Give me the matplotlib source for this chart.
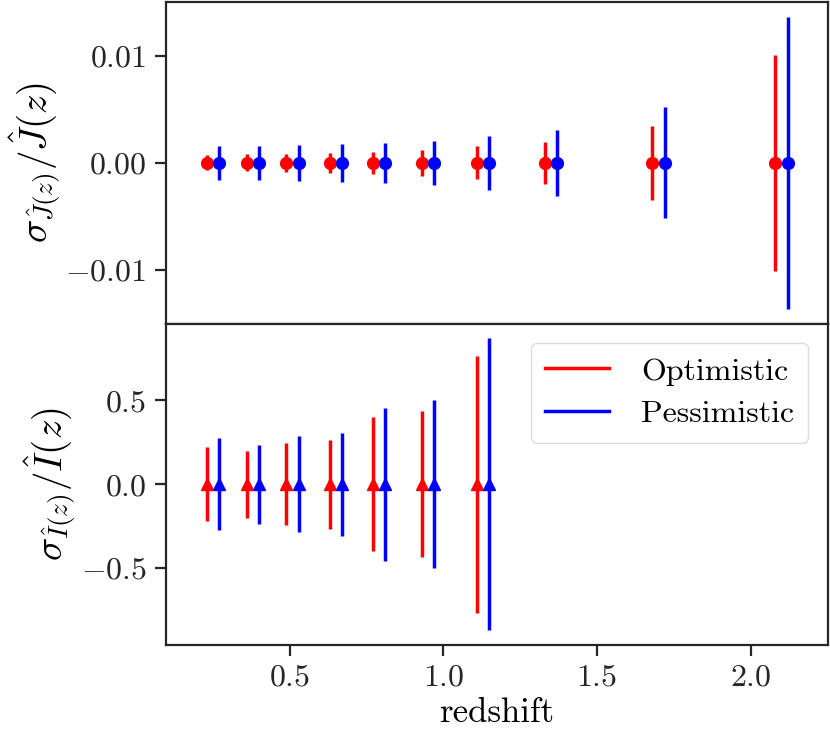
import numpy as np
import matplotlib
matplotlib.use('Agg')
import matplotlib.pyplot as plt

# redshift bins (centres) and forecast errors
z_bins = np.array([0.25, 0.38, 0.51, 0.65, 0.79, 0.95, 1.13, 1.35, 1.70, 2.10])
shift = 0.02

# top panel: sigma_J / J
j_opt = np.array([0.0007, 0.0008, 0.00085, 0.0009, 0.00105, 0.00125, 0.00155, 0.002, 0.0035, 0.0101])
j_pes = np.array([0.0016, 0.0016, 0.00165, 0.00175, 0.0019, 0.0021, 0.0025, 0.0031, 0.0052, 0.0137])

# bottom panel: sigma_I / I (only the first 7 bins)
i_z = z_bins[:7]
i_opt = np.array([0.22, 0.20, 0.245, 0.265, 0.40, 0.435, 0.765])
i_pes = np.array([0.275, 0.235, 0.285, 0.305, 0.455, 0.50, 0.87])

plt.rcParams['font.family'] = 'serif'
plt.rcParams['font.serif'] = ['cmr10', 'DejaVu Serif']
plt.rcParams['mathtext.fontset'] = 'cm'
plt.rcParams['axes.formatter.use_mathtext'] = True
plt.rcParams['axes.unicode_minus'] = True

edge = '#262626'
fig, (ax1, ax2) = plt.subplots(2, 1, sharex=True, figsize=(8.3, 7.38), dpi=100)
fig.subplots_adjust(left=0.2, right=0.997, top=0.997, bottom=0.126, hspace=0)

ax1.errorbar(z_bins - shift, np.zeros_like(z_bins), yerr=j_opt, fmt='o', color='red',
             ms=8.5, elinewidth=2.5, capsize=0)
ax1.errorbar(z_bins + shift, np.zeros_like(z_bins), yerr=j_pes, fmt='o', color='blue',
             ms=8.5, elinewidth=2.5, capsize=0)

ax2.errorbar(i_z - shift, np.zeros_like(i_z), yerr=i_opt, fmt='^', color='red',
             ms=8.5, elinewidth=2.5, capsize=0)
ax2.errorbar(i_z + shift, np.zeros_like(i_z), yerr=i_pes, fmt='^', color='blue',
             ms=8.5, elinewidth=2.5, capsize=0)

# legend with plain lines
ax2.plot([], [], color='red', lw=2.5, label='Optimistic')
ax2.plot([], [], color='blue', lw=2.5, label='Pessimistic')
leg = ax2.legend(loc='upper right', fontsize=23, frameon=True, handlelength=2.0,
                 borderpad=0.45, labelspacing=0.45, handletextpad=1.0, fancybox=True,
                 borderaxespad=0.6)
leg.get_frame().set_edgecolor('lightgray')

ax1.set_xlim(0.098, 2.25)
ax1.set_yticks([-0.01, 0.0, 0.01])
ax2.set_yticks([-0.5, 0.0, 0.5])
ax2.set_xticks([0.5, 1.0, 1.5, 2.0])

ax1.set_ylabel(r'$\sigma_{\hat{J}(z)}/\hat{J}(z)$', fontsize=28, labelpad=2)
ax2.set_ylabel(r'$\sigma_{\hat{I}(z)}/\hat{I}(z)$', fontsize=28, labelpad=2)
ax2.set_xlabel('redshift', fontsize=25, labelpad=4)

for ax in (ax1, ax2):
    for sp in ax.spines.values():
        sp.set_linewidth(1.6)
        sp.set_color(edge)
    ax.tick_params(axis='both', labelsize=23, length=8, width=1.6, color=edge,
                   labelcolor=edge, direction='out', pad=6)

fig.savefig('out.png', dpi=100)
